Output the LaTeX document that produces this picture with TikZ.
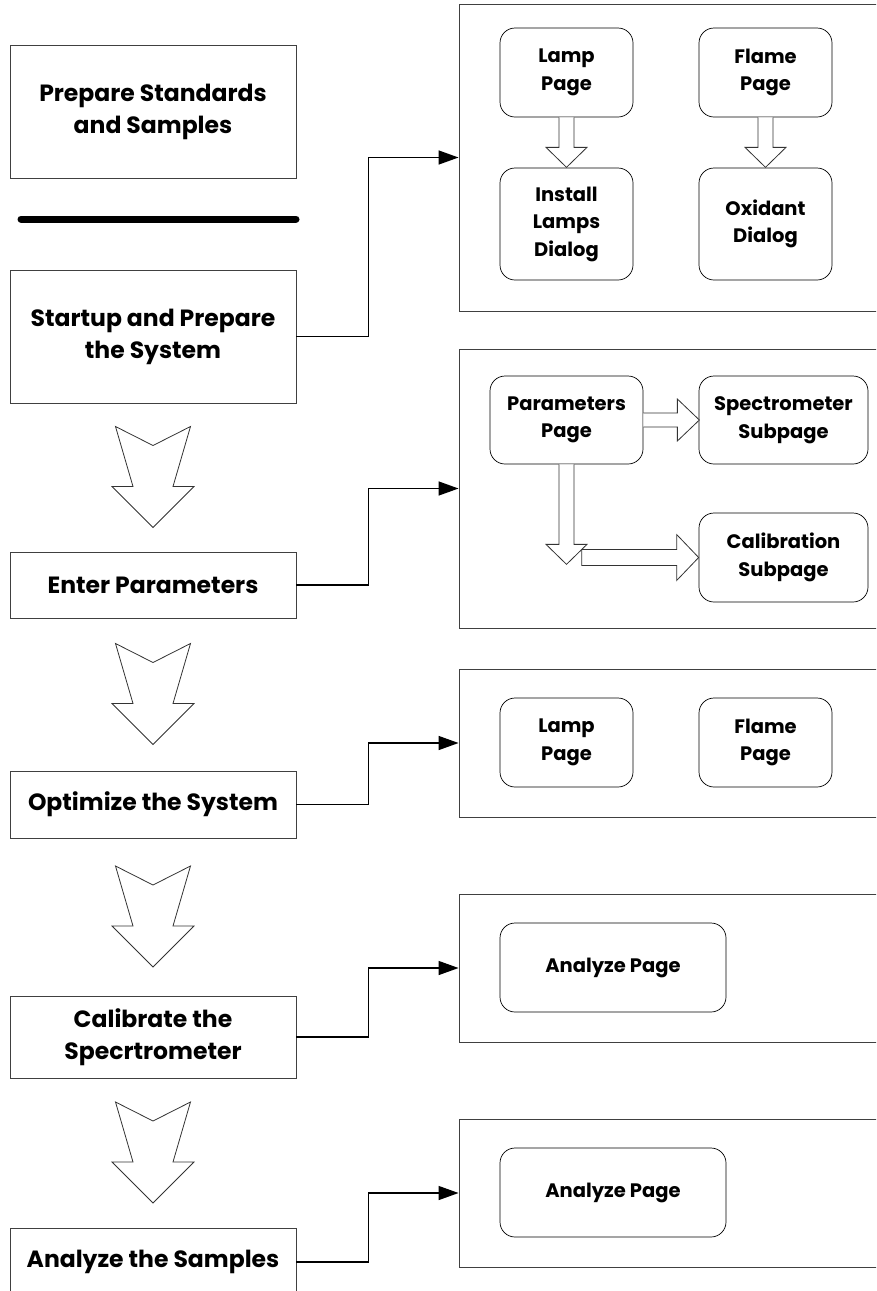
\documentclass[tikz,border=0pt]{standalone}
\usepackage{fontspec}
\setmainfont{Poppins}
\usetikzlibrary{arrows.meta,calc}
\tikzset{
  leftbox/.style={draw=black!75, line width=0.9pt, fill=white, inner sep=0pt, minimum width=286pt, align=center,
    font=\fontsize{23.5}{32}\selectfont\bfseries},
  panel/.style={draw=black!75, line width=0.9pt, inner sep=0pt, minimum width=441pt},
  pagebox/.style={draw=black, line width=0.7pt, rounded corners=15pt, fill=white, inner sep=0pt, align=center,
    font=\fontsize{19.5}{27.5}\selectfont\bfseries},
  conn/.style={line width=1.4pt, -{Triangle[length=20pt,width=14pt]}},
  bigarrow/.style={draw=black!80, line width=0.8pt, fill=white},
  hollow/.style={draw=black!80, line width=0.8pt, fill=white},
  sepline/.style={line width=7pt, line cap=round},
}
\begin{document}
\begin{tikzpicture}[x=1pt,y=-1pt]
\useasboundingbox (0,0) rectangle (876,1291);
\clip (0,0) rectangle (876,1291);
% left column
\node[leftbox, minimum height=133pt] (b1) at (153,111.5) {Prepare Standards\\and Samples};
\node[leftbox, minimum height=133pt] (b2) at (153,336.5) {Startup and Prepare\\the System};
\node[leftbox, minimum height=66pt] (b3) at (153,585) {Enter Parameters};
\node[leftbox, minimum height=67pt] (b4) at (153,804.5) {Optimize the System};
\node[leftbox, minimum height=82pt] (b5) at (153,1037) {Calibrate the\\Specrtrometer};
\node[leftbox, minimum height=68pt] (b6) at (153,1262) {Analyze the Samples};
% separator
\coordinate (s1) at (21,219);
\coordinate (s2) at (296,219);
\draw[sepline] (s1) -- (s2);
% big down arrows
\foreach \a/\b in {b2/b3,b3/b4,b4/b5,b5/b6}{
  \draw[bigarrow, shift={($(\a.south)!0.5!(\b.north)$)}]
    (-37.5,-51) -- (0,-32) -- (37.5,-51) -- (20,9) -- (41,9) -- (0,50) -- (-41,9) -- (-20,9) -- cycle;
}
% panels
\node[panel, minimum height=307pt] (p1) at (679.5,157.5) {};
\node[panel, minimum height=279pt] (p2) at (679.5,488.5) {};
\node[panel, minimum height=148pt] (p3) at (679.5,743) {};
\node[panel, minimum height=148pt] (p4) at (679.5,968) {};
\node[panel, minimum height=148pt] (p5) at (679.5,1193) {};
% connectors
\draw[conn] (b2.east) -- ++(72,0) |- (p1.west);
\draw[conn] (b3.east) -- ++(72,0) |- (p2.west);
\draw[conn] (b4.east) -- ++(72,0) |- (p3.west);
\draw[conn] (b5.east) -- ++(72,0) |- (p4.west);
\draw[conn] (b6.east) -- ++(72,0) |- (p5.west);
% panel 1
\node[pagebox, minimum width=133pt, minimum height=89pt] (lamp1) at (566.5,72.5) {Lamp\\Page};
\node[pagebox, minimum width=133pt, minimum height=89pt] (flame1) at (765.5,72.5) {Flame\\Page};
\node[pagebox, minimum width=133pt, minimum height=112pt] (install) at (566.5,224) {Install\\Lamps\\Dialog};
\node[pagebox, minimum width=133pt, minimum height=112pt] (oxid) at (765.5,224) {Oxidant\\Dialog};
\draw[hollow, shift={(lamp1.south)}] (-7.5,0) -- (-7.5,30) -- (-20.5,30) -- (0,50) -- (20.5,30) -- (7.5,30) -- (7.5,0);
\draw[hollow, shift={(flame1.south)}] (-7.5,0) -- (-7.5,30) -- (-20.5,30) -- (0,50) -- (20.5,30) -- (7.5,30) -- (7.5,0);
% panel 2
\node[pagebox, minimum width=153pt, minimum height=88pt] (params) at (566.5,420) {Parameters\\Page};
\node[pagebox, minimum width=169pt, minimum height=88pt] (spec) at (783.5,420) {Spectrometer\\Subpage};
\node[pagebox, minimum width=169pt, minimum height=89pt] (calib) at (783.5,557.5) {Calibration\\Subpage};
\draw[hollow, shift={(params.east)}] (0,-7) -- (34,-7) -- (34,-21) -- (56,0) -- (34,21) -- (34,7) -- (0,7);
\draw[hollow, shift={(calib.west)}] (-117,-8) -- (-22,-8) -- (-22,-23) -- (0,0) -- (-22,23) -- (-22,8) -- (-117,8) -- cycle;
\draw[hollow, shift={(params.south)}] (-7.5,0) -- (-7.5,80) -- (-20.5,80) -- (0,100) -- (20.5,80) -- (7.5,80) -- (7.5,0);
% panel 3
\node[pagebox, minimum width=133pt, minimum height=89pt] (lamp3) at (566.5,742.5) {Lamp\\Page};
\node[pagebox, minimum width=133pt, minimum height=89pt] (flame3) at (765.5,742.5) {Flame\\Page};
% panel 4, 5
\node[pagebox, minimum width=226pt, minimum height=89pt] (an1) at (613,967.5) {Analyze Page};
\node[pagebox, minimum width=226pt, minimum height=89pt] (an2) at (613,1192.5) {Analyze Page};
\end{tikzpicture}
\end{document}
